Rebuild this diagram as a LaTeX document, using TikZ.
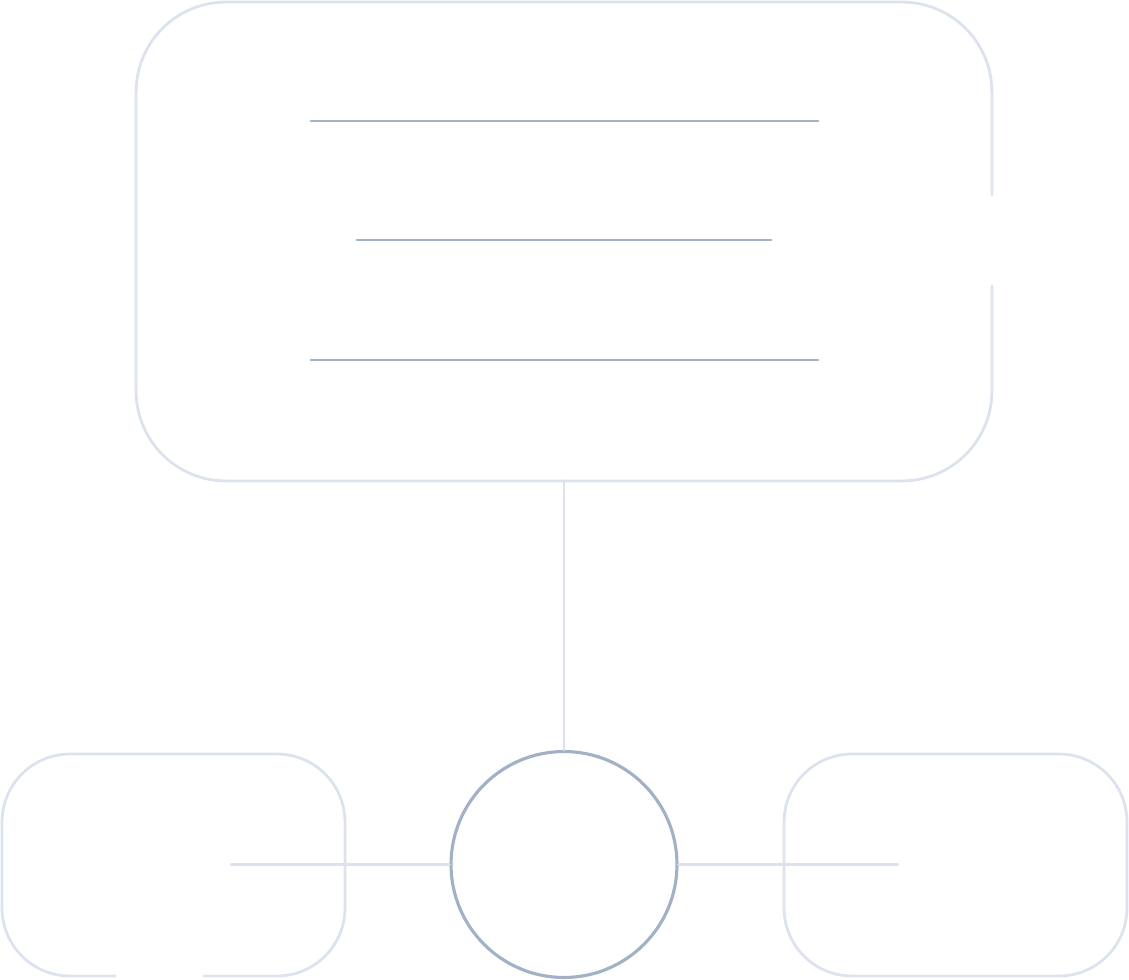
\documentclass[tikz,border=0pt]{standalone}
\usepackage{tikz}

\definecolor{paleblue}{HTML}{DCE3EF}
\definecolor{slateblue}{HTML}{A3B1C7}

\begin{document}
\begin{tikzpicture}[x=0.02cm,y=-0.02cm]
    \tikzset{pale/.style = {draw=paleblue,line width=1.6pt,line cap=round}}
    \tikzset{dark/.style = {draw=slateblue,line width=1.7pt,line cap=round}}
    \tikzset{hubnode/.style = {shape=circle,draw=slateblue,line width=1.8pt,minimum size=4.52cm,inner sep=0pt}}
    \tikzset{boxnode/.style = {shape=rectangle,inner sep=0pt,outer sep=0pt}}

    \useasboundingbox (0,0) rectangle (1129,980);

    \node[boxnode,minimum width=17.12cm,minimum height=9.58cm] (board) at (564,241.5) {};
    \node[boxnode,minimum width=6.86cm,minimum height=4.44cm] (leftbox) at (173.5,865) {};
    \node[boxnode,minimum width=6.86cm,minimum height=4.44cm] (rightbox) at (955.5,865) {};
    \node[hubnode] (hub) at (564,864.5) {};

    % top panel, open on the right
    \draw[pale,rounded corners=1.8cm] (board.east |- 0,286) -- (board.south east) -- (board.south west)
        -- (board.north west) -- (board.north east) -- (board.east |- 0,195);

    % text rows
    \draw[dark] (311,121) -- (818,121);
    \draw[dark] (357,240) -- (771,240);
    \draw[dark] (311,360) -- (818,360);

    % side boxes
    \draw[pale,rounded corners=1.36cm] (115,976) -- (leftbox.south west) -- (leftbox.north west)
        -- (leftbox.north east) -- (leftbox.south east) -- (204,976);
    \draw[pale,rounded corners=1.36cm] (rightbox.south west) rectangle (rightbox.north east);

    % connectors
    \coordinate (leftend) at (231,864.5);
    \coordinate (rightend) at (898,864.5);
    \draw[pale] (board.south) -- (hub.north);
    \draw[pale] (hub.west) -- (leftend);
    \draw[pale] (hub.east) -- (rightend);
\end{tikzpicture}
\end{document}
